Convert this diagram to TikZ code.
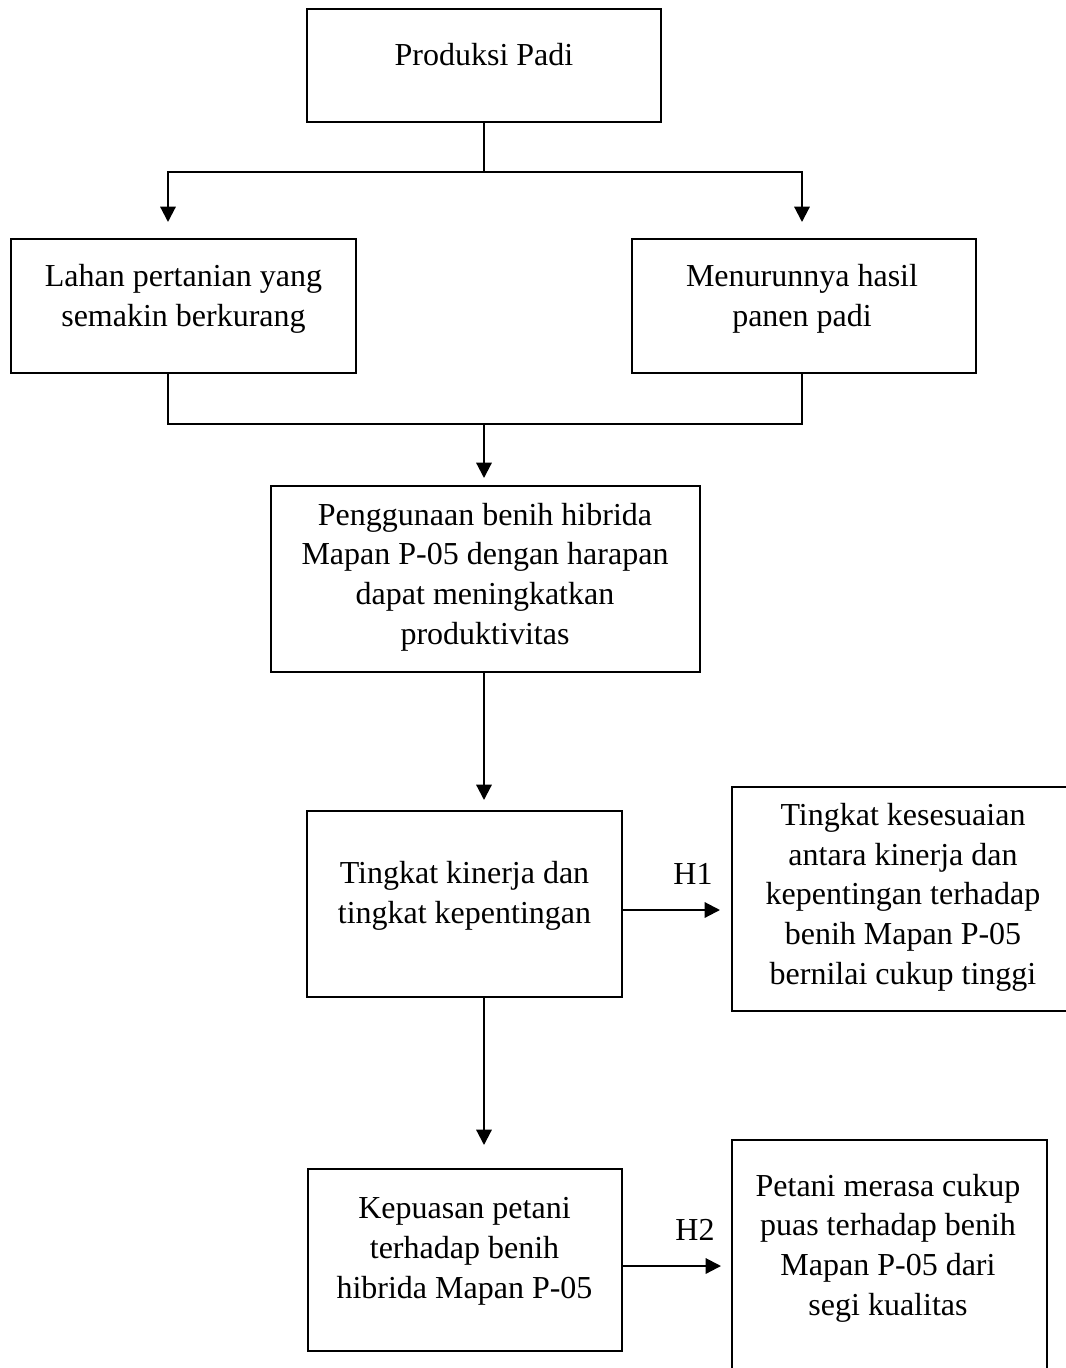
\documentclass[tikz,border=0pt]{standalone}
\usepackage{fontspec}
\setmainfont{Liberation Serif}
\usetikzlibrary{arrows.meta}
\begin{document}
\begin{tikzpicture}[x=0.75pt,y=-0.75pt,
  box/.style={draw, line width=1.6pt, inner sep=0pt, rectangle},
  txt/.style={inner sep=0pt, align=center, anchor=base, font=\fontsize{24}{29.7}\selectfont},
  conn/.style={line width=1.6pt},
  arr/.style={line width=1.6pt, -{Triangle[length=11.5pt,width=11.5pt]}}]
\useasboundingbox (0,0) rectangle (1066,1368);
\clip (0,0) rectangle (1066,1368);
% boxes
\node[box, minimum width=354*0.75pt, minimum height=113*0.75pt] (b1) at (484,65.5) {};
\node[box, minimum width=345*0.75pt, minimum height=134*0.75pt] (b2) at (183.5,306) {};
\node[box, minimum width=344*0.75pt, minimum height=134*0.75pt] (b3) at (804,306) {};
\node[box, minimum width=429*0.75pt, minimum height=186*0.75pt] (b4) at (485.5,579) {};
\node[box, minimum width=315*0.75pt, minimum height=186*0.75pt] (b5) at (464.5,904) {};
\node[box, minimum width=348*0.75pt, minimum height=224*0.75pt] (b6) at (906,899) {};
\node[box, minimum width=314*0.75pt, minimum height=182*0.75pt] (b7) at (465,1260) {};
\node[box, minimum width=315*0.75pt, minimum height=245*0.75pt] (b8) at (889.5,1262.5) {};
% texts (base anchor = baseline of the last line)
\node[txt] (t1) at (484,65) {Produksi Padi};
\node[txt] (t2) at (183.5,326) {Lahan pertanian yang\\semakin berkurang};
\node[txt] (t3) at (802,326) {Menurunnya hasil\\panen padi};
\node[txt] (t4) at (485,644) {Penggunaan benih hibrida\\Mapan P-05 dengan harapan\\dapat meningkatkan\\produktivitas};
\node[txt] (t5) at (464.5,923) {Tingkat kinerja dan\\tingkat kepentingan};
\node[txt] (t6) at (903,984) {Tingkat kesesuaian\\antara kinerja dan\\kepentingan terhadap\\benih Mapan P-05\\bernilai cukup tinggi};
\node[txt] (t7) at (464.5,1298) {Kepuasan petani\\terhadap benih\\hibrida Mapan P-05};
\node[txt] (t8) at (888,1315) {Petani merasa cukup\\puas terhadap benih\\Mapan P-05 dari\\segi kualitas};
\node[txt] (lh1) at (693,884) {H1};
\node[txt] (lh2) at (695,1240) {H2};
% connector points
\coordinate (j1) at (484,172);
\coordinate (a1) at (168,222);
\coordinate (a2) at (802,222);
\coordinate (j2) at (484,424);
\coordinate (a3) at (484,478);
\coordinate (a4) at (484,800);
\coordinate (a5) at (484,1145);
\coordinate (h1) at (720,910);
\coordinate (h2) at (721,1266);
% connectors
\draw[conn] (b1.south) -- (j1);
\draw[arr] (j1) -| (a1);
\draw[arr] (j1) -| (a2);
\draw[conn] (a1 |- b2.south) |- (j2) -| (a2 |- b3.south);
\draw[arr] (j2) -- (a3);
\draw[arr] (a4 |- b4.south) -- (a4);
\draw[arr] (h1 -| b5.east) -- (h1);
\draw[arr] (a5 |- b5.south) -- (a5);
\draw[arr] (h2 -| b7.east) -- (h2);
\end{tikzpicture}
\end{document}
